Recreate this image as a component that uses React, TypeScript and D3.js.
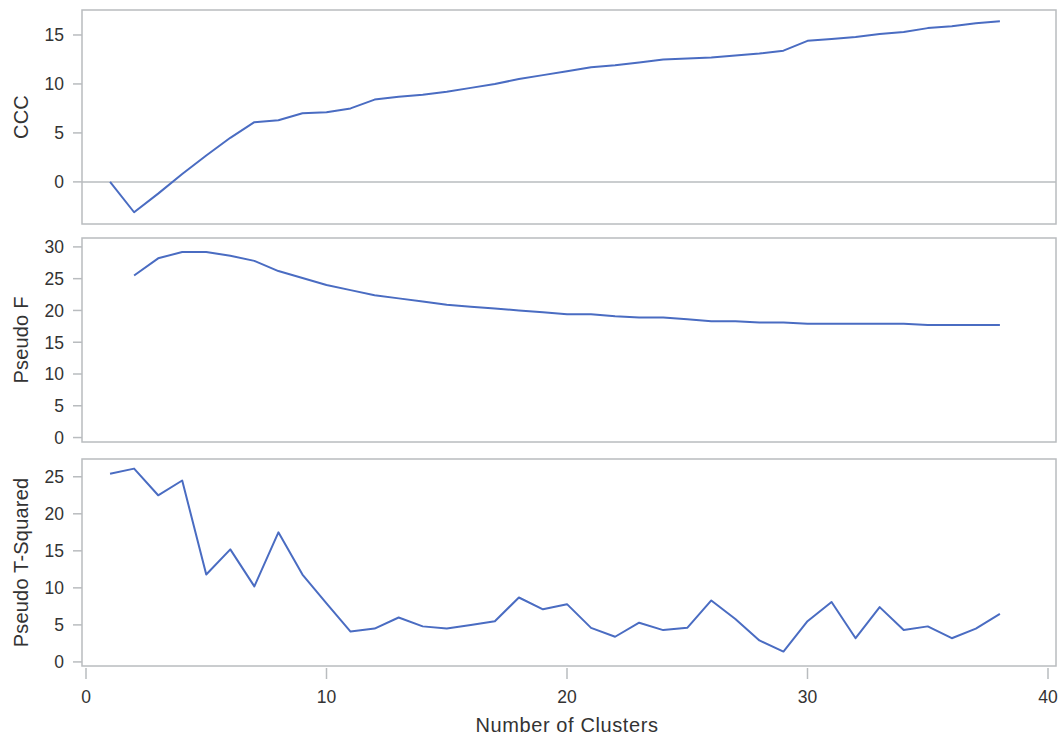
import React from 'react';
import * as d3 from 'd3';

// number of clusters on the x axis
const clusters = d3.range(1, 39);

// values, one per cluster count
const cccValues = [
  0, -3.1, -1.2, 0.8, 2.7, 4.5, 6.1, 6.3, 7.0, 7.1, 7.5, 8.4, 8.7, 8.9, 9.2, 9.6, 10.0, 10.5, 10.9,
  11.3, 11.7, 11.9, 12.2, 12.5, 12.6, 12.7, 12.9, 13.1, 13.4, 14.4, 14.6, 14.8, 15.1, 15.3, 15.7,
  15.9, 16.2, 16.4
];
// pseudo F starts at 2 clusters
const pseudoFValues = [
  null, 25.5, 28.2, 29.2, 29.2, 28.6, 27.8, 26.2, 25.1, 24.0, 23.2, 22.4, 21.9, 21.4, 20.9, 20.6,
  20.3, 20.0, 19.7, 19.4, 19.4, 19.1, 18.9, 18.9, 18.6, 18.3, 18.3, 18.1, 18.1, 17.9, 17.9, 17.9,
  17.9, 17.9, 17.7, 17.7, 17.7, 17.7
];
const pseudoTValues = [
  25.4, 26.1, 22.5, 24.5, 11.8, 15.2, 10.2, 17.5, 11.8, 7.9, 4.1, 4.5, 6.0, 4.8, 4.5, 5.0, 5.5,
  8.7, 7.1, 7.8, 4.6, 3.4, 5.3, 4.3, 4.6, 8.3, 5.8, 2.9, 1.4, 5.5, 8.1, 3.2, 7.4, 4.3, 4.8, 3.2,
  4.5, 6.5
];

const xTicks = [0, 10, 20, 30, 40];

const panels = [
  { title: 'CCC', values: cccValues, domain: [-4.3, 17.55], ticks: [0, 5, 10, 15], top: 10, bottom: 224, zero: true },
  { title: 'Pseudo F', values: pseudoFValues, domain: [-0.7, 31.4], ticks: [0, 5, 10, 15, 20, 25, 30], top: 238, bottom: 442, zero: false },
  { title: 'Pseudo T-Squared', values: pseudoTValues, domain: [-0.55, 27.4], ticks: [0, 5, 10, 15, 20, 25], top: 459, bottom: 666, zero: false }
];

const width = 1058;
const height = 738;
const left = 82;
const right = 1056;
const lineColor = '#4a6cc2';
const frameColor = '#b9bcbf';
const textColor = '#333';
const font = '"Liberation Sans", Arial, sans-serif';

const Panel = ({ p, x }) => {
  const y = d3.scaleLinear().domain(p.domain).range([p.bottom, p.top]);
  const line = d3
    .line<any>()
    .defined(d => d.v != null)
    .x(d => x(d.c))
    .y(d => y(d.v));
  const pts = clusters.map((c, i) => ({ c, v: p.values[i] }));
  const mid = (p.top + p.bottom) / 2;
  return (
    <g>
      {p.zero && (
        <line x1={left} x2={right} y1={y(0)} y2={y(0)} stroke={frameColor} strokeWidth={1.5} />
      )}
      <rect x={left} y={p.top} width={right - left} height={p.bottom - p.top} fill="none" stroke={frameColor} strokeWidth={1.5} />
      {p.ticks.map(t => (
        <g key={t}>
          <line x1={left - 9} x2={left} y1={y(t)} y2={y(t)} stroke={frameColor} strokeWidth={1.5} />
          <text x={left - 18} y={y(t)} dy="0.36em" textAnchor="end" fontSize={17.5} fill={textColor} fontFamily={font}>
            {t}
          </text>
        </g>
      ))}
      <text
        transform={`translate(28,${mid}) rotate(-90)`}
        textAnchor="middle"
        fontSize={20}
        letterSpacing={0.2}
        fill={textColor}
        fontFamily={font}
      >
        {p.title}
      </text>
      <path d={line(pts) || ''} fill="none" stroke={lineColor} strokeWidth={2} strokeLinejoin="round" />
    </g>
  );
};

export default function App() {
  const x = d3.scaleLinear().domain([0, 40]).range([86, 1048]);
  const axisY = 668;
  return (
    <svg width={width} height={height} style={{ position: 'absolute', left: 0, top: 0, background: 'white' }}>
      {panels.map(p => (
        <Panel key={p.title} p={p} x={x} />
      ))}
      {xTicks.map(t => (
        <g key={t}>
          <line x1={x(t)} x2={x(t)} y1={axisY} y2={axisY + 11} stroke={frameColor} strokeWidth={1.5} />
          <text x={x(t)} y={axisY + 35} textAnchor="middle" fontSize={17.5} fill={textColor} fontFamily={font}>
            {t}
          </text>
        </g>
      ))}
      <text x={x(20)} y={732} textAnchor="middle" fontSize={20} letterSpacing={0.6} fill={textColor} fontFamily={font}>
        Number of Clusters
      </text>
    </svg>
  );
}
